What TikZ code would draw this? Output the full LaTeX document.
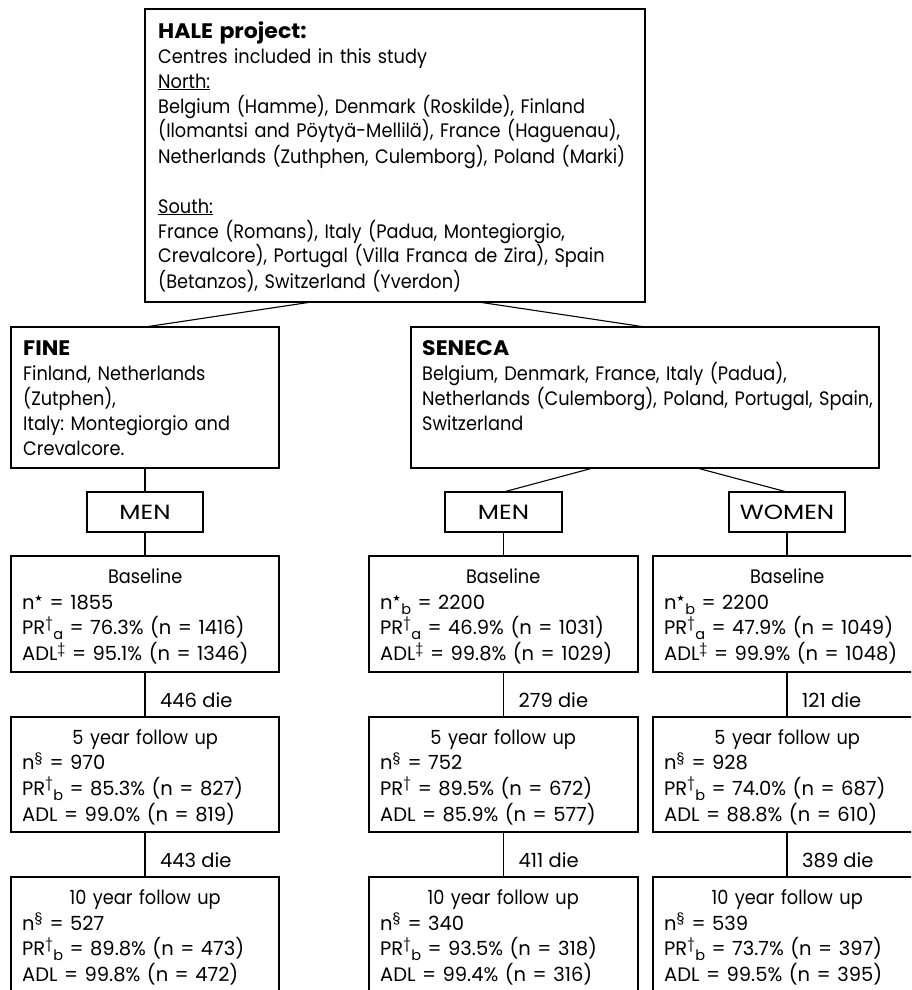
\documentclass[tikz,border=0pt]{standalone}
\usepackage{fontspec}
\setmainfont{Poppins}[FakeStretch=0.91]
\newfontfamily\dfont{Poppins}[FakeStretch=1.0]
\newfontfamily\bff{Poppins}[FakeStretch=1.05]
\newfontfamily\capf{Poppins}[FakeStretch=1.2]
\newfontfamily\djv{DejaVu Sans}
\usetikzlibrary{calc}
\frenchspacing
\newcommand\msize{\fontsize{19.5}{25}\selectfont}
\newcommand\dsize{\fontsize{19.5}{25.7}\selectfont}
\newcommand\Sup[1]{\textsuperscript{#1}}
\newcommand\Sub[1]{\raisebox{-5pt}{\fontsize{14.5}{14.5}\selectfont #1}}
\newcommand\Star{\textsuperscript{\djv\fontsize{9}{9}\selectfont ★}}
\newcommand\ttl[1]{\makebox[246pt][c]{\normalfont #1}}
\newcommand\hd[1]{{\bff\bfseries\fontsize{21}{25}\selectfont #1}}
\begin{document}
\begin{tikzpicture}[x=1pt,y=-1pt,
  box/.style={draw, line width=1.1pt, inner sep=0pt, outer sep=0pt},
  sexbox/.style={box, minimum height=40, font=\capf\fontsize{20.5}{24}\selectfont},
  conn/.style={draw, line width=1.1pt},
  txt/.style={anchor=base west, inner sep=0pt, text width=600pt, align=left, font=\msize},
  dtxt/.style={anchor=base west, inner sep=0pt, text width=600pt, align=left, font=\dsize\dfont},
  lab/.style={anchor=base west, inner sep=0pt, font=\msize\dfont}]
\useasboundingbox (0,0) rectangle (911,990);
\clip (0,0) rectangle (911,990);
% top box
\node[box, minimum width=500, minimum height=293] (hale) at (395,155.5) {};
\node[txt] (halet) at (158,38) {\hd{HALE project:}\\
Centres included in this study\\
\underline{North:}\\
Belgium (Hamme), Denmark (Roskilde), Finland\\
(Ilomantsi and Pöytyä-Mellilä), France (Haguenau),\\
Netherlands (Zuthphen, Culemborg), Poland (Marki)\\[25pt]
\underline{South:}\\
France (Romans), Italy (Padua, Montegiorgio,\\
Crevalcore), Portugal (Villa Franca de Zira), Spain\\
(Betanzos), Switzerland (Yverdon)};
% study boxes
\node[box, minimum width=268, minimum height=141] (fine) at (145,397.5) {};
\node[txt] (finet) at (23,355) {\hd{FINE}\\
Finland, Netherlands\\
(Zutphen),\\
Italy: Montegiorgio and\\
Crevalcore.};
\node[box, minimum width=468, minimum height=141] (seneca) at (645,397.5) {};
\node[txt] (senecat) at (422,355) {\hd{SENECA}\\
Belgium, Denmark, France, Italy (Padua),\\
Netherlands (Culemborg), Poland, Portugal, Spain,\\
Switzerland};
% sex boxes
\node[sexbox, minimum width=116] (men1) at (145,512) {MEN};
\node[sexbox, minimum width=117] (men2) at (503.5,512) {MEN};
\node[sexbox, minimum width=116] (women) at (787,512) {WOMEN};
% baseline boxes
\node[box, minimum width=268, minimum height=116] (base1) at (145,614) {};
\node[box, minimum width=269, minimum height=116] (base2) at (503.5,614) {};
\node[box, minimum width=268, minimum height=116] (base3) at (787,614) {};
\node[dtxt] (base1t) at (22,583.5) {\ttl{Baseline}\\
n\Star{} = 1855\\
PR\Sup{†}\Sub{a} = 76.3\% (n = 1416)\\
ADL\Sup{‡} = 95.1\% (n = 1346)};
\node[dtxt] (base2t) at (380,583.5) {\ttl{Baseline}\\
n\Star\Sub{b} = 2200\\
PR\Sup{†}\Sub{a} = 46.9\% (n = 1031)\\
ADL\Sup{‡} = 99.8\% (n = 1029)};
\node[dtxt] (base3t) at (664,583.5) {\ttl{Baseline}\\
n\Star\Sub{b} = 2200\\
PR\Sup{†}\Sub{a} = 47.9\% (n = 1049)\\
ADL\Sup{‡} = 99.9\% (n = 1048)};
% 5 year boxes
\node[box, minimum width=268, minimum height=115] (fa) at (145,774.5) {};
\node[box, minimum width=269, minimum height=115] (fb) at (503.5,774.5) {};
\node[box, minimum width=268, minimum height=115] (fc) at (787,774.5) {};
\node[dtxt] (fat) at (22,744) {\ttl{5 year follow up}\\
n\Sup{§} = 970\\
PR\Sup{†}\Sub{b} = 85.3\% (n = 827)\\
ADL = 99.0\% (n = 819)};
\node[dtxt] (fbt) at (380,744) {\ttl{5 year follow up}\\
n\Sup{§} = 752\\
PR\Sup{†} = 89.5\% (n = 672)\\
ADL = 85.9\% (n = 577)};
\node[dtxt] (fct) at (664,744) {\ttl{5 year follow up}\\
n\Sup{§} = 928\\
PR\Sup{†}\Sub{b} = 74.0\% (n = 687)\\
ADL = 88.8\% (n = 610)};
% 10 year boxes
\node[box, minimum width=268, minimum height=115] (ta) at (145,934.5) {};
\node[box, minimum width=269, minimum height=115] (tb) at (503.5,934.5) {};
\node[box, minimum width=268, minimum height=115] (tc) at (787,934.5) {};
\node[dtxt] (tat) at (22,904.5) {\ttl{10 year follow up}\\
n\Sup{§} = 527\\
PR\Sup{†}\Sub{b} = 89.8\% (n = 473)\\
ADL = 99.8\% (n = 472)};
\node[dtxt] (tbt) at (380,904.5) {\ttl{10 year follow up}\\
n\Sup{§} = 340\\
PR\Sup{†}\Sub{b} = 93.5\% (n = 318)\\
ADL = 99.4\% (n = 316)};
\node[dtxt] (tct) at (664,904.5) {\ttl{10 year follow up}\\
n\Sup{§} = 539\\
PR\Sup{†}\Sub{b} = 73.7\% (n = 397)\\
ADL = 99.5\% (n = 395)};
% connectors
\draw[conn] ($(hale.south west)!1/3!(hale.south east)$) -- (fine.north);
\draw[conn] ($(hale.south west)!2/3!(hale.south east)$) -- (seneca.north);
\draw[conn] (fine.south) -- (men1.north);
\draw[conn] ([xshift=-52pt]seneca.south) -- (men2.north);
\draw[conn] ([xshift=52pt]seneca.south) -- (women.north);
\draw[conn] (men1.south) -- (base1.north);
\draw[conn] (men2.south) -- (base2.north);
\draw[conn] (women.south) -- (base3.north);
\draw[conn] (base1.south) -- (fa.north);
\draw[conn] (base2.south) -- (fb.north);
\draw[conn] (base3.south) -- (fc.north);
\draw[conn] (fa.south) -- (ta.north);
\draw[conn] (fb.south) -- (tb.north);
\draw[conn] (fc.south) -- (tc.north);
% death labels
\node[lab] (d1) at ([shift={(15,35)}]base1.south) {446 die};
\node[lab] (d2) at ([shift={(15,35)}]base2.south) {279 die};
\node[lab] (d3) at ([shift={(15,35)}]base3.south) {121 die};
\node[lab] (d4) at ([shift={(15,35)}]fa.south) {443 die};
\node[lab] (d5) at ([shift={(15,35)}]fb.south) {411 die};
\node[lab] (d6) at ([shift={(15,35)}]fc.south) {389 die};
\end{tikzpicture}
\end{document}
